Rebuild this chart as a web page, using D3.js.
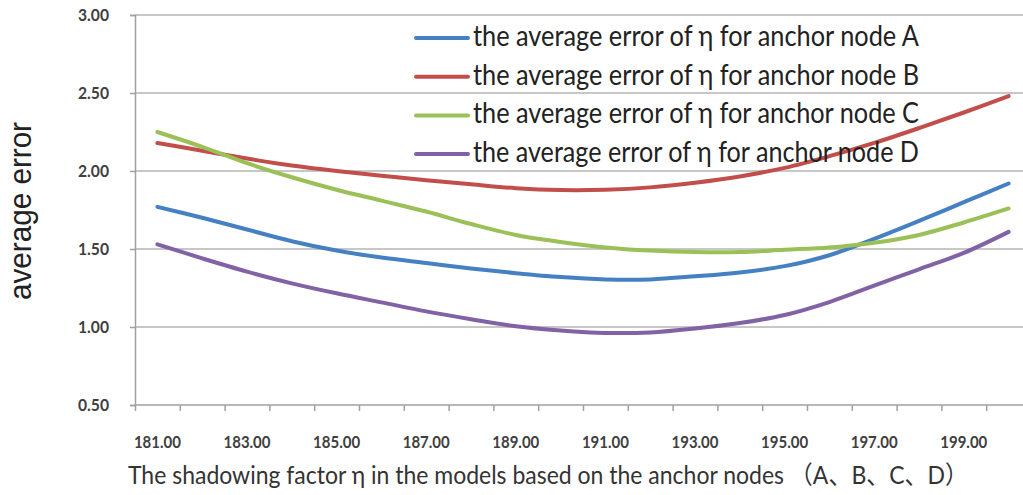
<!DOCTYPE html>
<html>
<head>
<meta charset="utf-8">
<script src="https://cdn.jsdelivr.net/npm/d3@7"></script>
<style>
  body { margin: 0; background: #fff; }
  text { font-family: Lato, "Noto Sans CJK SC", sans-serif; }
</style>
</head>
<body>
<svg id="chart"></svg>
<script>
var width = 1023;
var height = 495;

// shadowing factor eta (categories)
var etas = [181, 182, 183, 184, 185, 186, 187, 188, 189, 190,
            191, 192, 193, 194, 195, 196, 197, 198, 199, 200];

// average error per anchor node
var errA = [1.77, 1.70, 1.625, 1.55, 1.49, 1.445, 1.41, 1.375, 1.345, 1.32,
            1.305, 1.305, 1.325, 1.35, 1.39, 1.46, 1.565, 1.68, 1.80, 1.92];
var errB = [2.18, 2.13, 2.08, 2.035, 2.00, 1.97, 1.94, 1.915, 1.89, 1.878,
            1.88, 1.895, 1.925, 1.965, 2.02, 2.095, 2.18, 2.275, 2.375, 2.48];
var errC = [2.25, 2.155, 2.05, 1.96, 1.88, 1.81, 1.74, 1.66, 1.59, 1.545,
            1.51, 1.49, 1.48, 1.48, 1.495, 1.51, 1.54, 1.59, 1.67, 1.76];
var errD = [1.53, 1.44, 1.355, 1.28, 1.216, 1.158, 1.10, 1.05, 1.005, 0.978,
            0.962, 0.965, 0.99, 1.025, 1.077, 1.16, 1.265, 1.37, 1.475, 1.61];

var seriesNames = ["the average error of η for anchor node A",
                   "the average error of η for anchor node B",
                   "the average error of η for anchor node C",
                   "the average error of η for anchor node D"];
var seriesColors = ["#4580c2", "#c24e4b", "#9bc058", "#8062a5"];

var yTicks = [0.5, 1.0, 1.5, 2.0, 2.5, 3.0];
var xLabelTicks = [181, 183, 185, 187, 189, 191, 193, 195, 197, 199];

var yLabel = "average error";
var xLabel = "The shadowing factor η in the models based on the anchor nodes （A、B、C、D）";

var svg = d3.select("#chart")
  .attr("width", width)
  .attr("height", height);

// plot area runs off the right edge like the original picture
var plotLeft = 135, plotTop = 15, plotBottom = 405, step = 44.8;
var x = d3.scaleBand()
  .domain(etas)
  .range([plotLeft, plotLeft + step * etas.length]);
var xEdge = d3.scaleLinear()
  .domain([180.5, 200.5])
  .range([plotLeft, plotLeft + step * etas.length]);
var y = d3.scaleLinear()
  .domain([0.5, 3.0])
  .range([plotBottom, plotTop]);

// gridlines
svg.append("g")
  .selectAll("line")
  .data(yTicks.slice(1))
  .join("line")
  .attr("x1", plotLeft).attr("x2", width)
  .attr("y1", function(d) { return y(d); })
  .attr("y2", function(d) { return y(d); })
  .attr("stroke", "#b4b4b4")
  .attr("stroke-width", 1.5);

// y axis
var yAxis = svg.append("g")
  .attr("transform", "translate(" + plotLeft + ",0)")
  .call(d3.axisLeft(y).tickValues(yTicks).tickFormat(d3.format(".2f")).tickSize(5).tickPadding(21));
yAxis.selectAll("line, path").attr("stroke", "#a0a0a0").attr("stroke-width", 1.5);
yAxis.selectAll("text")
  .attr("fill", "#404040")
  .attr("textLength", 31)
  .attr("lengthAdjust", "spacingAndGlyphs")
  .style("font-size", "17px")
  .style("font-weight", "bold");

// x axis tick marks at category edges
var xAxis = svg.append("g")
  .attr("transform", "translate(0," + plotBottom + ")")
  .call(d3.axisBottom(xEdge).tickValues(d3.range(180.5, 201, 1)).tickFormat("").tickSize(6).tickSizeOuter(0));
xAxis.select("path").attr("d", "M" + plotLeft + ",0H" + width);
xAxis.selectAll("line, path").attr("stroke", "#a0a0a0").attr("stroke-width", 1.5);

// x labels at category centres
svg.append("g")
  .attr("transform", "translate(0," + plotBottom + ")")
  .call(d3.axisBottom(x).tickValues(xLabelTicks).tickFormat(d3.format(".2f")).tickSize(0).tickPadding(31))
  .call(function(g) { g.select(".domain").remove(); })
  .selectAll("text")
  .attr("fill", "#404040")
  .attr("textLength", 47)
  .attr("lengthAdjust", "spacingAndGlyphs")
  .style("font-size", "17px")
  .style("font-weight", "bold");

// lines (smoothed like the spreadsheet original)
var line = d3.line()
  .x(function(d, i) { return x(etas[i]) + x.bandwidth() / 2; })
  .y(function(d) { return y(d); })
  .curve(d3.curveCatmullRom.alpha(0.5));

[errA, errB, errC, errD].forEach(function(vals, i) {
  svg.append("path")
    .datum(vals)
    .attr("d", line)
    .attr("fill", "none")
    .attr("stroke", seriesColors[i])
    .attr("stroke-width", 4)
    .attr("stroke-linecap", "round");
});

// legend (no background, lines show through)
var legend = svg.append("g").attr("transform", "translate(416,38)");
seriesNames.forEach(function(name, i) {
  var row = legend.append("g").attr("transform", "translate(0," + (i * 38.7) + ")");
  row.append("line")
    .attr("x1", 0).attr("x2", 52)
    .attr("stroke", seriesColors[i])
    .attr("stroke-width", 4)
    .attr("stroke-linecap", "round");
  row.append("text")
    .attr("x", 57).attr("y", 8)
    .attr("fill", "#222")
    .attr("textLength", 446)
    .attr("lengthAdjust", "spacingAndGlyphs")
    .style("font-size", "29px")
    .text(name);
});

// axis titles
svg.append("text")
  .attr("transform", "translate(31,211) rotate(-90)")
  .attr("text-anchor", "middle")
  .attr("fill", "#222")
  .attr("textLength", 178)
  .attr("lengthAdjust", "spacingAndGlyphs")
  .style("font-family", "'Liberation Sans', Arial, sans-serif")
  .style("font-size", "31px")
  .text(yLabel);

svg.append("text")
  .attr("x", 548).attr("y", 484)
  .attr("text-anchor", "middle")
  .attr("fill", "#333")
  .attr("textLength", 840)
  .attr("lengthAdjust", "spacingAndGlyphs")
  .style("font-size", "25px")
  .text(xLabel);
</script>
</body>
</html>
